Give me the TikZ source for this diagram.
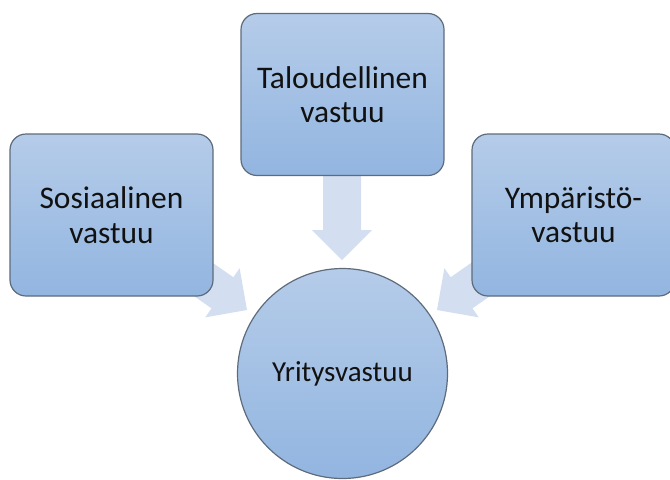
\documentclass[tikz,border=0pt]{standalone}
\usepackage{fontspec}
\setmainfont{Carlito}
\definecolor{boxtop}{HTML}{B5CCE9}
\definecolor{boxbot}{HTML}{92B5E0}
\definecolor{boxline}{HTML}{5E6B7B}
\definecolor{arrowfill}{HTML}{D3DFF1}
\definecolor{txt}{HTML}{111111}
\tikzset{
  stepbox/.style={rectangle, rounded corners=12pt, draw=boxline, line width=0.9pt,
    top color=boxtop, bottom color=boxbot, minimum width=152.25pt, minimum height=121.5pt,
    align=center, text=txt, font=\fontsize{23.6}{25.8}\selectfont, inner sep=0pt},
  hubcircle/.style={circle, draw=boxline, line width=0.9pt,
    top color=boxtop, bottom color=boxbot, minimum size=157.5pt,
    align=center, text=txt, font=\fontsize{21.75}{25.5}\selectfont, inner sep=0pt},
  blockarrow/.style={fill=arrowfill}
}
\newcommand{\blockarr}[2]{%
  \fill[blockarrow, shift={(#1)}, rotate=#2]
    (0,0) -- (-30,30) -- (-30,19) -- (-110,19) -- (-110,-19) -- (-30,-19) -- (-30,-30) -- cycle;}
\begin{document}
\begin{tikzpicture}[x=0.75pt,y=-0.75pt]
\useasboundingbox (0,0) rectangle (670,479);
% arrow tips
\coordinate (tipT) at (342,260);
\coordinate (tipL) at (247,310);
\coordinate (tipR) at (437,310);
\blockarr{tipT}{-90}
\blockarr{tipL}{-35}
\blockarr{tipR}{-145}
% nodes
\node[stepbox] (sos) at (111.5,215) {Sosiaalinen\\vastuu};
\node[stepbox] (tal) at (342.5,94.5) {Taloudellinen\\vastuu};
\node[stepbox] (ymp) at (573.5,215) {Ympäristö-\\vastuu};
\node[hubcircle] (yri) at (342.5,373.5) {Yritysvastuu};
\end{tikzpicture}
\end{document}
